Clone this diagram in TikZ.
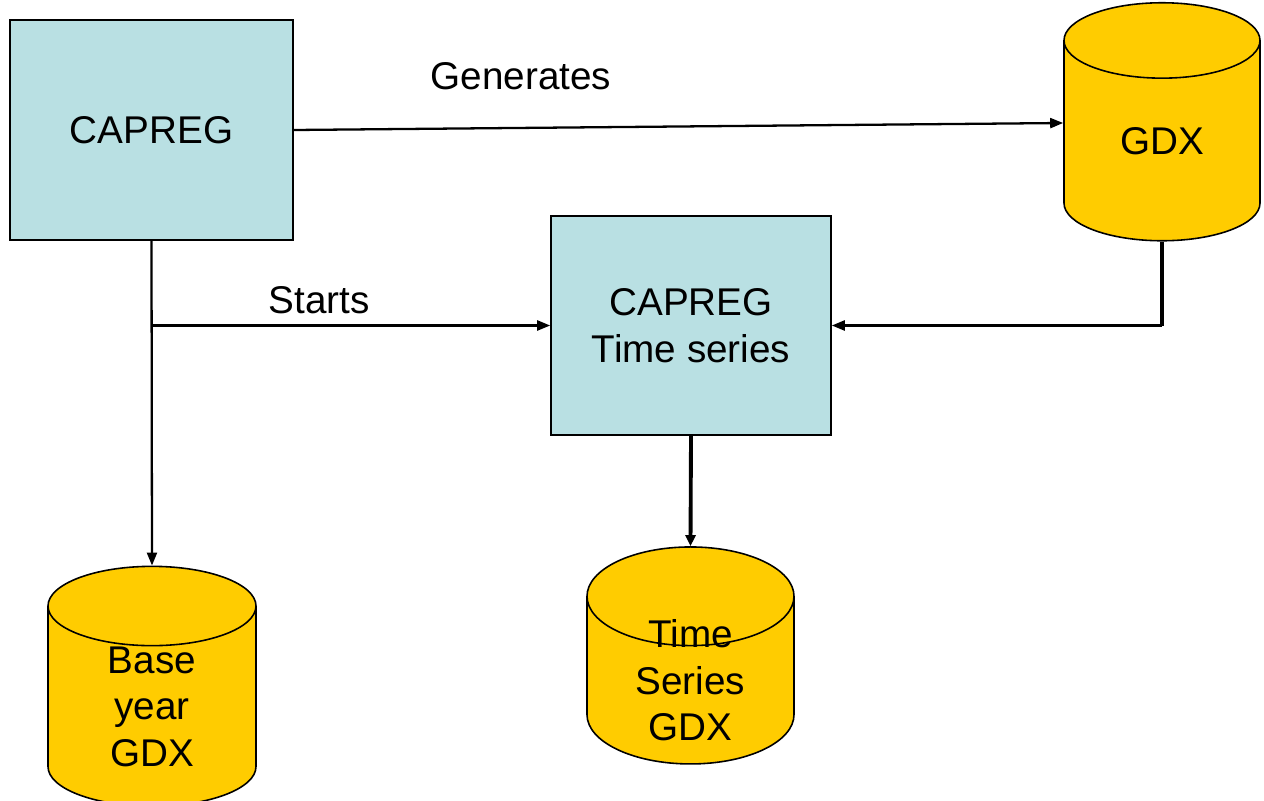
\documentclass[tikz,border=0pt]{standalone}
\usepackage{fontspec}
\setmainfont{Liberation Sans}
\usepackage{tikz}
\usetikzlibrary{positioning}
\usetikzlibrary{shapes.geometric}
\usetikzlibrary{arrows.meta}
\usetikzlibrary{calc}

\definecolor{boxblue}{HTML}{B9E0E3}
\definecolor{dbyellow}{HTML}{FFCC00}

\tikzset{
	prog/.style = {draw, fill=boxblue, line width=0.9pt, align=center, font=\fontsize{22}{27}\selectfont},
	store/.style = {draw, fill=dbyellow, line width=0.9pt, cylinder, shape border rotate=90, aspect=0.9, align=center, font=\fontsize{22}{26.5}\selectfont, inner sep=0pt},
	flow/.style = {line width=1.3pt, -{Triangle[length=0.26cm, width=0.2cm]}},
	heavy/.style = {line width=2.2pt}
}

\begin{document}
\begin{tikzpicture}
\useasboundingbox (0,0) rectangle (25.28,-16.02);

\node[prog, minimum width=5.66cm, minimum height=4.4cm] (capreg) at (3.03,-2.6) {CAPREG};
\node[prog, minimum width=5.6cm, minimum height=4.38cm] (tseries) at (13.82,-6.51) {CAPREG\\Time series};

\node[store, minimum width=3.92cm, minimum height=4.76cm] (gdx) at (23.24,-2.82) {GDX};
\node[store, minimum width=4.16cm, minimum height=4.54cm] (basegdx) at (3.04,-14.13) {Base\\year\\GDX};
\node[store, minimum width=4.14cm, minimum height=4.34cm, inner ysep=-0.65cm] (tsgdx) at (13.81,-13.61) {Time\\Series\\GDX};

\node (generates) at (10.42,-1.52) {\fontsize{22}{27}\selectfont Generates};
\node (starts) at (6.38,-6.0) {\fontsize{22}{27}\selectfont Starts};

\coordinate (split) at (capreg.south |- tseries.west);
\coordinate (turn) at (gdx.south |- tseries.east);
\coordinate (gdxin) at ($(gdx.west)+(0,0.36)$);

\draw[flow] (capreg.east) -- (gdxin);
\draw[flow] (capreg.south) -- (basegdx.north);
\draw[flow] (split) -- (tseries.west);
\draw[heavy] (gdx.south) -- (turn);
\draw[flow] (turn) -- (tseries.east);
\draw[heavy, -{Triangle[length=0.22cm, width=0.2cm]}] (tseries.south) -- (tsgdx.north);
\end{tikzpicture}
\end{document}
